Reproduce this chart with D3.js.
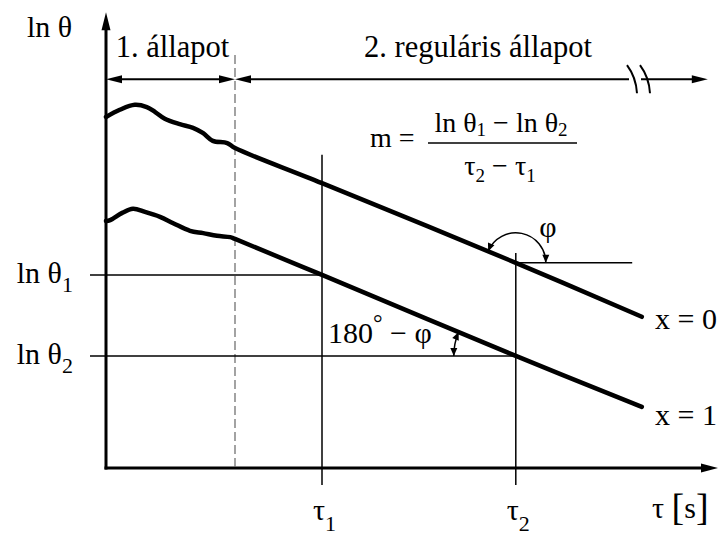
<html>
<head>
<meta charset="utf-8">
<script src="https://cdn.jsdelivr.net/npm/d3@7"></script>
<style>
    svg text, svg tspan { font-family: "Liberation Serif", "Times New Roman", serif !important; }
</style>
</head>
<body style="margin:0">
<svg width="721" height="535" font-family="Liberation Serif"></svg>
<script>
// curve x = 0 (surface), tau and ln theta in chart units
const surfaceTau = [0, 2.3, 4.8, 6.8, 8.2, 9.8, 12.3, 14.5, 16.2, 17.8, 20.2, 21.5, 36, 68.3, 89.3]
const surfaceLn = [78.0, 79.6, 80.7, 80.2, 79.1, 77.6, 76.4, 75.6, 74.4, 72.7, 72.2, 71.1, 63.3, 45.6, 33.6]
// curve x = 1
const centreTau = [0, 0.7, 2.7, 4.5, 6.5, 9, 11.2, 14, 16.2, 18.5, 20.7, 21.5, 36, 68.3, 89.3]
const centreLn = [54.9, 55.1, 56.7, 57.6, 56.9, 55.8, 54.4, 52.7, 52.2, 51.6, 51.3, 50.9, 42.9, 24.9, 13.6]

const curveLabels = ['x = 0', 'x = 1']
const tauMarks = [36, 68.3]          // tau1, tau2
const tauMarkTops = [69.6, 47.8]     // where the vertical lines start
const tauSubs = ['1', '2']
const lnThetaMarks = [42.9, 24.9]    // ln theta1, ln theta2
const regularStart = 21.5            // end of stage 1
const phiLn = 45.6                   // surface curve at tau2
const phiLineEnd = 87.7
const stageLabels = ['1. állapot', '2. reguláris állapot']
const stageRow = 86.4
const breakTau = 87.5

const x = d3.scaleLinear().domain([0, 100]).range([106, 706])
const y = d3.scaleLinear().domain([0, 100]).range([468, 18])

const svg = d3.select('svg')
const g = svg.append('g')

function seg(x1, y1, x2, y2, w, dash) {
    const l = g.append('line')
        .attr('x1', x1).attr('y1', y1).attr('x2', x2).attr('y2', y2)
        .attr('stroke', dash ? '#666' : '#000').attr('stroke-width', w)
    if (dash) l.attr('stroke-dasharray', dash)
    return l
}

function label(px, py, size, str) {
    const t = svg.append('text').attr('x', px).attr('y', py)
        .attr('font-size', size).attr('font-family', 'Liberation Serif')
        .style('font-family', '"Liberation Serif", serif', 'important')
    if (str) t.text(str)
    return t
}

// tip at (tx, ty), pointing along (dx, dy)
function arrowHead(tx, ty, dx, dy, len, half) {
    const n = Math.hypot(dx, dy)
    const ux = dx / n, uy = dy / n
    const bx = tx - ux * len, by = ty - uy * len
    g.append('polygon')
        .attr('points', [[tx, ty], [bx - uy * half, by + ux * half], [bx + uy * half, by - ux * half]].join(' '))
        .attr('fill', '#000')
}

// axes
const x0 = x(0), yBase = y(0)
seg(x0, yBase + 1.5, x0, y(101.3) + 15, 3)
arrowHead(x0, y(101.3), 0, -1, 18, 4.5)
seg(x0 - 1.5, yBase, x(102) - 15, yBase, 3)
arrowHead(x(102), yBase, 1, 0, 17, 4.5)

// stage 1 / stage 2 boundary
seg(x(regularStart), y(91.8), x(regularStart), yBase, 1.2, '9,4')

// stage dimension lines
const rowY = y(stageRow)
seg(x0 + 10, rowY, x(regularStart) - 10, rowY, 2)
arrowHead(x0, rowY, -1, 0, 16, 4)
arrowHead(x(regularStart), rowY, 1, 0, 16, 4)
seg(x(regularStart) + 10, rowY, x(breakTau) - 2, rowY, 2)
seg(x(breakTau) + 10, rowY, x(100.3) - 10, rowY, 2)
arrowHead(x(regularStart), rowY, -1, 0, 16, 4)
arrowHead(x(100.3), rowY, 1, 0, 16, 4)
;[0, 13].forEach(off => {
    const bx = x(breakTau) - 4 + off
    g.append('path')
        .attr('d', `M${bx},${rowY - 14} Q${bx + 9},${rowY - 2} ${bx + 10},${rowY + 14}`)
        .attr('fill', 'none').attr('stroke', '#000').attr('stroke-width', 2)
})

stageLabels.forEach((d, i) => {
    label(i === 0 ? (x0 + x(regularStart)) / 2 + 2 : 478, rowY - 22, 30.5, d)
        .attr('text-anchor', 'middle')
})

// reference lines
lnThetaMarks.forEach((v, i) => seg(x0 - 16, y(v), x(tauMarks[i]), y(v), 1.5))
tauMarks.forEach((t, i) => seg(x(t), y(tauMarkTops[i]), x(t), yBase + 17, 1.5))
seg(x(tauMarks[1]), y(phiLn), x(phiLineEnd), y(phiLn), 1.5)

// curves
const line = d3.line().x(d => x(d[0])).y(d => y(d[1])).curve(d3.curveCatmullRom.alpha(0.5))
;[d3.zip(surfaceTau, surfaceLn), d3.zip(centreTau, centreLn)].forEach(pts => {
    g.append('path').datum(pts).attr('d', line)
        .attr('fill', 'none').attr('stroke', '#000').attr('stroke-width', 4.5)
        .attr('stroke-linecap', 'round').attr('stroke-linejoin', 'round')
})

curveLabels.forEach((d, i) => {
    const yy = i === 0 ? y(surfaceLn[surfaceLn.length - 1]) + 12 : y(centreLn[centreLn.length - 1]) + 18
    label(655, yy, 30, d)
})

// angle arcs (screen angles, clockwise)
const slopeAng = Math.atan2(y(centreLn[13]) - y(centreLn[12]), x(centreTau[13]) - x(centreTau[12]))

function angleArc(cx, cy, r, a0, a1) {
    const p = d3.path()
    p.arc(cx, cy, r, a0, a1, false)
    g.append('path').attr('d', p.toString()).attr('fill', 'none').attr('stroke', '#000').attr('stroke-width', 1.5)
    arrowHead(cx + r * Math.cos(a0), cy + r * Math.sin(a0), Math.sin(a0), -Math.cos(a0), 8, 3.5)
    arrowHead(cx + r * Math.cos(a1), cy + r * Math.sin(a1), -Math.sin(a1), Math.cos(a1), 8, 3.5)
}
angleArc(x(tauMarks[1]), y(phiLn), 30, Math.PI + slopeAng, 2 * Math.PI)
angleArc(x(tauMarks[1]), y(lnThetaMarks[1]), 62, Math.PI, Math.PI + slopeAng)

label(548, 237, 30, 'φ').attr('text-anchor', 'middle')
const supp = label(328, 343, 30)
supp.append('tspan').text('180')
supp.append('tspan').attr('font-size', 24).attr('dy', -12).text('°')
supp.append('tspan').attr('dy', 12).text(' − φ')

// formula
label(370, 147, 28, 'm =')
seg(428, 143, 577, 143, 1.5)
const num = label(501, 132, 28).attr('text-anchor', 'middle')
num.append('tspan').text('ln θ')
num.append('tspan').attr('font-size', 19).attr('dy', 4).text('1')
num.append('tspan').attr('dy', -4).text(' − ln θ')
num.append('tspan').attr('font-size', 19).attr('dy', 4).text('2')
const den = label(500, 175, 28).attr('text-anchor', 'middle')
den.append('tspan').text('τ')
den.append('tspan').attr('font-size', 19).attr('dy', 7).text('2')
den.append('tspan').attr('dy', -7).text(' − τ')
den.append('tspan').attr('font-size', 19).attr('dy', 7).text('1')

// axis titles and tick labels
label(27, 37, 30, 'ln θ')
lnThetaMarks.forEach((v, i) => {
    const t = label(73, y(v) + 8, 30).attr('text-anchor', 'end')
    t.append('tspan').text('ln θ')
    t.append('tspan').attr('font-size', 22).attr('dy', 9).text(tauSubs[i])
})
tauMarks.forEach((v, i) => {
    const t = label(x(v) - 9, 520, 30)
    t.append('tspan').text('τ')
    t.append('tspan').attr('font-size', 22).attr('dy', 11).text(tauSubs[i])
})
const unit = label(652, 518, 30)
unit.append('tspan').text('τ ')
unit.append('tspan').attr('font-size', 38).attr('dy', 2).text('[')
unit.append('tspan').attr('dy', -2).text('s')
unit.append('tspan').attr('font-size', 38).attr('dy', 2).text(']')
</script>
</body>
</html>
